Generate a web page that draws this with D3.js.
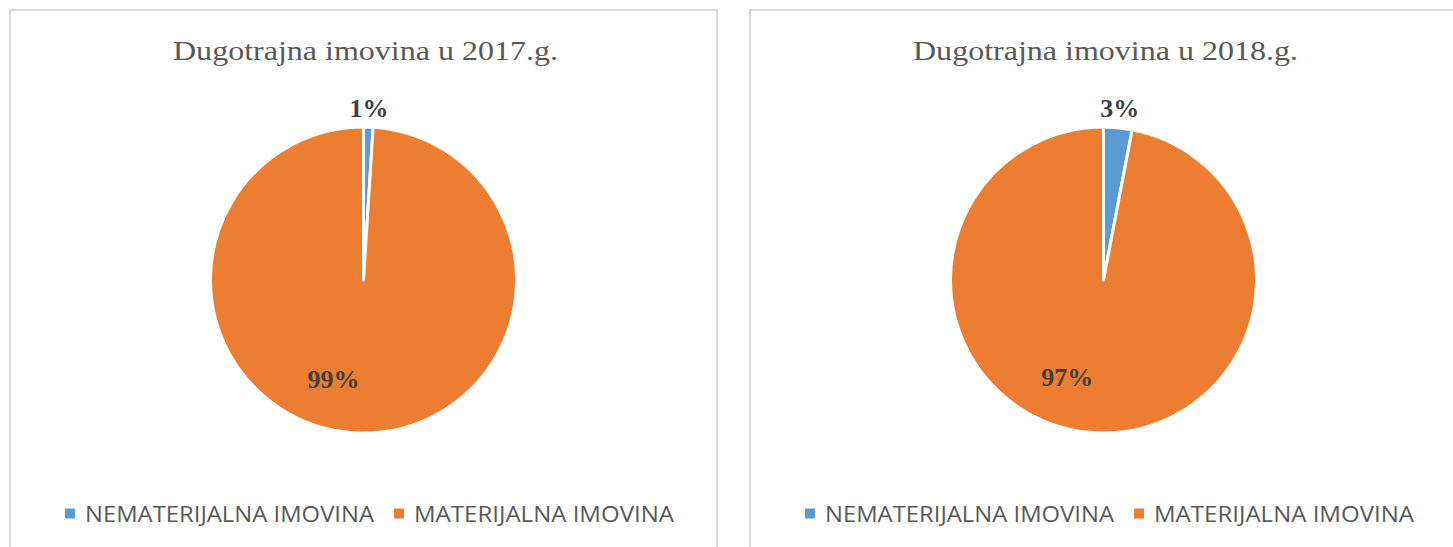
<!DOCTYPE html>
<html>
<head>
<meta charset="utf-8">
<script src="https://cdn.jsdelivr.net/npm/d3@7"></script>
<style>
  html, body { margin: 0; padding: 0; background: #fff; }
  svg { display: block; }
</style>
</head>
<body>
<svg id="chart" width="1453" height="547"></svg>
<script>
// ---- data ----
const categories = ["NEMATERIJALNA IMOVINA", "MATERIJALNA IMOVINA"];
const titles = ["Dugotrajna imovina u 2017.g.", "Dugotrajna imovina u 2018.g."];
const values2017 = [1, 99];
const values2018 = [3, 97];
const seriesValues = [values2017, values2018];
const colors = ["#5B9BD5", "#ED7D31"];

// ---- layout ----
const svg = d3.select("#chart");
const panelX = [10, 750];
const panelW = 707;
const radius = 153;
const cyPie = 280;

const color = d3.scaleOrdinal().domain(categories).range(colors);
const pie = d3.pie().sort(null).value(d => d.value);
const arc = d3.arc().innerRadius(0).outerRadius(radius);
const fmt = d => d3.format(".0%")(d / 100);

seriesValues.forEach((vals, pi) => {
  const px = panelX[pi];
  const g = svg.append("g").attr("transform", `translate(${px},0)`);
  g.append("rect")
    .attr("x", 0).attr("y", 10)
    .attr("width", panelW).attr("height", 620)
    .attr("fill", "#fff")
    .attr("stroke", "#D9D9D9").attr("stroke-width", 2);

  const cx = panelW / 2;
  g.append("text")
    .attr("x", cx + 2).attr("y", 60)
    .attr("text-anchor", "middle")
    .attr("font-family", "'Liberation Serif', 'Times New Roman', serif")
    .attr("font-size", 28)
    .attr("fill", "#595959")
    .attr("textLength", 385)
    .attr("lengthAdjust", "spacingAndGlyphs")
    .text(titles[pi]);

  const data = categories.map((c, i) => ({ cat: c, value: vals[i] }));
  const arcs = pie(data);
  const pg = g.append("g").attr("transform", `translate(${cx},${cyPie})`);
  pg.selectAll("path").data(arcs).join("path")
    .attr("d", arc)
    .attr("fill", d => color(d.data.cat))
    .attr("stroke", "#fff")
    .attr("stroke-width", 3)
    .attr("stroke-linejoin", "round");

  pg.selectAll("text.lbl").data(arcs).join("text")
    .attr("class", "lbl")
    .each(function (d) {
      const mid = (d.startAngle + d.endAngle) / 2;
      const small = d.value < 10;
      const a = small ? mid : mid + (15 * Math.PI / 180);
      const r = small ? 172 : 104;
      d3.select(this)
        .attr("x", Math.sin(a) * r)
        .attr("y", -Math.cos(a) * r);
    })
    .attr("text-anchor", "middle")
    .attr("dominant-baseline", "central")
    .attr("font-family", "'Liberation Serif', 'Times New Roman', serif")
    .attr("font-weight", "bold")
    .attr("font-size", 26)
    .attr("fill", "#404040")
    .text(d => fmt(d.value));

  // legend
  const legX = [55, 384];
  const legW = [289, 260];
  const lg = g.append("g");
  categories.forEach((c, i) => {
    lg.append("rect")
      .attr("x", legX[i]).attr("y", 508.5)
      .attr("width", 10).attr("height", 10)
      .attr("fill", color(c));
    lg.append("text")
      .attr("x", legX[i] + 20).attr("y", 522)
      .attr("font-family", "'Open Sans', 'Liberation Sans', sans-serif")
      .attr("font-size", 22.5)
      .attr("fill", "#595959")
      .attr("textLength", legW[i])
      .attr("lengthAdjust", "spacingAndGlyphs")
      .text(c);
  });
});
</script>
</body>
</html>
